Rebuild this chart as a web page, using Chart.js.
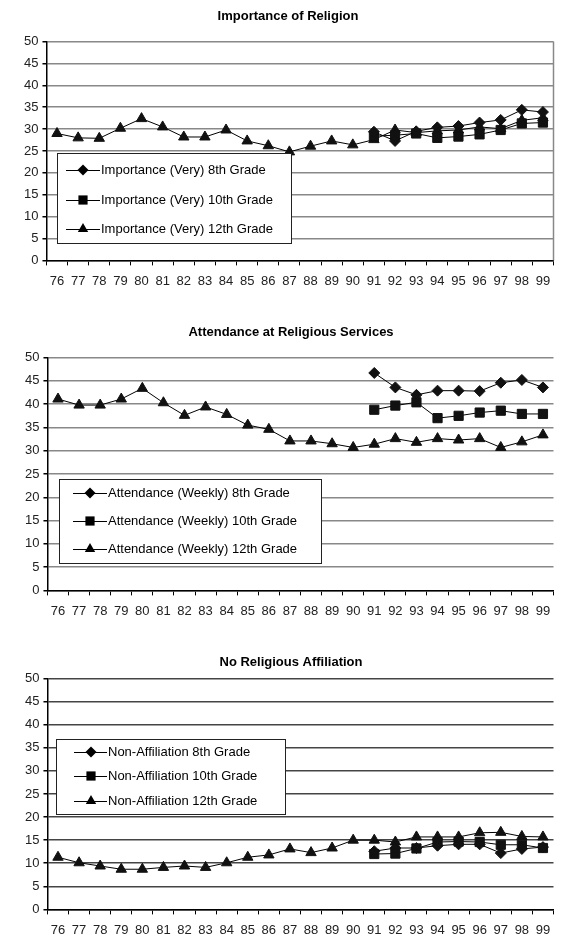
<!DOCTYPE html>
<html>
<head>
<meta charset="utf-8">
<script src="https://cdn.jsdelivr.net/npm/chart.js@4.4.1/dist/chart.umd.min.js"></script>
<style>
  html, body { margin: 0; padding: 0; background: #fff; }
  body { width: 561px; height: 936px; position: relative; overflow: hidden; }
  canvas { position: absolute; left: 0; }
</style>
</head>
<body>
<canvas id="religion-chart" width="561" height="304" style="top:0px"></canvas>
<canvas id="attendance-chart" width="561" height="319" style="top:310px"></canvas>
<canvas id="affiliation-chart" width="561" height="310" style="top:636px"></canvas>
<script>
const years = ['76', '77', '78', '79', '80', '81', '82', '83', '84', '85', '86', '87',
    '88', '89', '90', '91', '92', '93', '94', '95', '96', '97', '98', '99'];

// Importance of Religion (Very)
const importance8 = [null, null, null, null, null, null, null, null, null, null, null, null,
    null, null, null, 29.4, 27.3, 29.5, 30.4, 30.7, 31.5, 32.1, 34.4, 33.9];
const importance10 = [null, null, null, null, null, null, null, null, null, null, null, null,
    null, null, null, 28.4, 28.6, 29.0, 28.0, 28.3, 28.8, 29.8, 31.3, 31.5];
const importance12 = [29.0, 28.0, 27.9, 30.2, 32.4, 30.5, 28.2, 28.2, 29.8, 27.3, 26.2, 24.8,
    26.1, 27.3, 26.4, 27.6, 29.8, 29.2, 29.6, 29.8, 30.5, 30.1, 32.0, 32.6];

// Attendance at Religious Services (Weekly)
const attendance8 = [null, null, null, null, null, null, null, null, null, null, null, null,
    null, null, null, 46.7, 43.6, 42.0, 42.9, 42.9, 42.8, 44.6, 45.2, 43.6];
const attendance10 = [null, null, null, null, null, null, null, null, null, null, null, null,
    null, null, null, 38.8, 39.7, 40.4, 37.0, 37.5, 38.2, 38.6, 37.9, 37.9];
const attendance12 = [41.1, 39.8, 39.8, 41.1, 43.4, 40.3, 37.6, 39.4, 37.8, 35.5, 34.6, 32.1,
    32.1, 31.5, 30.7, 31.4, 32.6, 31.8, 32.6, 32.3, 32.6, 30.7, 31.9, 33.4];

// No Religious Affiliation
const nonAffiliation8 = [null, null, null, null, null, null, null, null, null, null, null, null,
    null, null, null, 12.6, 13.3, 13.3, 13.8, 14.1, 14.1, 12.2, 13.1, 13.5];
const nonAffiliation10 = [null, null, null, null, null, null, null, null, null, null, null, null,
    null, null, null, 12.0, 12.1, 13.2, 14.6, 14.7, 14.6, 14.0, 14.0, 13.3];
const nonAffiliation12 = [11.3, 10.1, 9.4, 8.7, 8.7, 9.1, 9.4, 9.1, 10.1, 11.3, 11.8, 13.1,
    12.3, 13.3, 15.0, 15.0, 14.6, 15.7, 15.7, 15.7, 16.6, 16.7, 15.8, 15.7];

const yTicks = [0, 5, 10, 15, 20, 25, 30, 35, 40, 45, 50];

const FONT = 'Arial, "Liberation Sans", sans-serif';

function drawMarker(ctx, style, x, y, r) {
    ctx.beginPath();
    if (style === 'rectRot') {
        ctx.moveTo(x, y - r);
        ctx.lineTo(x + r, y);
        ctx.lineTo(x, y + r);
        ctx.lineTo(x - r, y);
    } else if (style === 'rect') {
        const s = Math.SQRT1_2 * r;
        ctx.rect(x - s, y - s, 2 * s, 2 * s);
    } else {
        ctx.moveTo(x, y - r);
        ctx.lineTo(x + r * 0.866, y + r * 0.5);
        ctx.lineTo(x - r * 0.866, y + r * 0.5);
    }
    ctx.closePath();
    ctx.fill();
}

// legend box drawn inside the plot area, like the original spreadsheet charts
const boxLegend = {
    id: 'boxLegend',
    afterDraw(chart, args, opts) {
        const ctx = chart.ctx;
        ctx.save();
        ctx.fillStyle = '#fff';
        ctx.fillRect(opts.x, opts.y, opts.w, opts.h);
        ctx.strokeStyle = '#222';
        ctx.lineWidth = 1;
        ctx.strokeRect(opts.x + 0.5, opts.y + 0.5, opts.w, opts.h);
        ctx.font = '13px ' + FONT;
        ctx.textBaseline = 'middle';
        chart.data.datasets.forEach((ds, i) => {
            const y = opts.y + opts.rows[i];
            ctx.strokeStyle = '#000';
            ctx.beginPath();
            ctx.moveTo(opts.lineFrom, y + 0.5);
            ctx.lineTo(opts.lineTo, y + 0.5);
            ctx.stroke();
            ctx.fillStyle = '#000';
            drawMarker(ctx, ds.pointStyle, opts.marker, y, ds.pointRadius);
            ctx.fillText(ds.label, opts.textX, y);
        });
        ctx.restore();
    }
};

// right hand edge of the plot area (only on the first chart)
const rightEdge = {
    id: 'rightEdge',
    beforeDatasetsDraw(chart, args, opts) {
        if (!opts.show) return;
        const a = chart.chartArea;
        const ctx = chart.ctx;
        ctx.save();
        ctx.strokeStyle = opts.color;
        ctx.lineWidth = 1.5;
        ctx.beginPath();
        ctx.moveTo(a.right, a.top);
        ctx.lineTo(a.right, a.bottom);
        ctx.stroke();
        ctx.restore();
    }
};

function series(label, data, style, radius) {
    return {
        label: label,
        data: data,
        borderColor: '#000',
        backgroundColor: '#000',
        borderWidth: 1,
        pointStyle: style,
        pointRadius: radius,
        pointBackgroundColor: '#111',
        pointBorderColor: '#111',
        pointBorderWidth: 1,
        tension: 0
    };
}

function makeChart(id, title, sets, cfg) {
    const ctx = document.getElementById(id).getContext('2d');
    return new Chart(ctx, {
        type: 'line',
        data: {
            labels: years,
            datasets: [
                series(sets[0][0], sets[0][1], 'rectRot', 5.5),
                series(sets[1][0], sets[1][1], 'rect', 6.5),
                series(sets[2][0], sets[2][1], 'triangle', 6)
            ]
        },
        options: {
            responsive: false,
            animation: false,
            events: [],
            layout: { padding: cfg.padding },
            plugins: {
                legend: { display: false },
                tooltip: { enabled: false },
                title: {
                    display: true,
                    text: title,
                    color: '#000',
                    font: { family: FONT, size: 13, weight: 'bold' },
                    padding: cfg.titlePadding
                },
                boxLegend: cfg.legend,
                rightEdge: { show: cfg.rightEdge, color: cfg.gridColor }
            },
            scales: {
                x: {
                    offset: true,
                    grid: {
                        offset: true,
                        drawOnChartArea: false,
                        drawTicks: true,
                        tickLength: 5,
                        tickColor: '#000'
                    },
                    border: { color: '#000', width: 1.5 },
                    ticks: {
                        color: '#222',
                        padding: 8,
                        maxRotation: 0,
                        autoSkip: false,
                        font: { family: FONT, size: 13 }
                    }
                },
                y: {
                    min: 0,
                    max: 50,
                    afterBuildTicks: (axis) => { axis.ticks = yTicks.map(v => ({ value: v })); },
                    grid: {
                        color: cfg.gridColor,
                        lineWidth: 1.5,
                        tickLength: 4,
                        tickColor: '#000'
                    },
                    border: { color: '#000', width: 1.5 },
                    ticks: {
                        color: '#222',
                        padding: 4,
                        font: { family: FONT, size: 13 }
                    }
                }
            }
        },
        plugins: [rightEdge, boxLegend]
    });
}

makeChart('religion-chart', 'Importance of Religion', [
    ['Importance (Very) 8th Grade', importance8],
    ['Importance (Very) 10th Grade', importance10],
    ['Importance (Very) 12th Grade', importance12]
], {
    padding: { left: 20, right: 5, top: 0, bottom: 7 },
    titlePadding: { top: 9, bottom: 17 },
    gridColor: '#888',
    rightEdge: true,
    legend: { x: 57, y: 153, w: 234, h: 90, rows: [17, 47, 76], lineFrom: 66, lineTo: 100, marker: 83, textX: 101 }
});

makeChart('attendance-chart', 'Attendance at Religious Services', [
    ['Attendance (Weekly) 8th Grade', attendance8],
    ['Attendance (Weekly) 10th Grade', attendance10],
    ['Attendance (Weekly) 12th Grade', attendance12]
], {
    padding: { left: 21, right: 0, top: 0, bottom: 2 },
    titlePadding: { top: 15, bottom: 17 },
    gridColor: '#888',
    rightEdge: false,
    legend: { x: 59, y: 169, w: 262, h: 84, rows: [14, 42, 70], lineFrom: 73, lineTo: 107, marker: 90, textX: 108 }
});

makeChart('affiliation-chart', 'No Religious Affiliation', [
    ['Non-Affiliation 8th Grade', nonAffiliation8],
    ['Non-Affiliation 10th Grade', nonAffiliation10],
    ['Non-Affiliation 12th Grade', nonAffiliation12]
], {
    padding: { left: 21, right: 0, top: 0, bottom: 0 },
    titlePadding: { top: 19, bottom: 8 },
    gridColor: '#444',
    rightEdge: false,
    legend: { x: 56, y: 103, w: 229, h: 75, rows: [13, 37, 62], lineFrom: 74, lineTo: 107, marker: 91, textX: 108 }
});
</script>
</body>
</html>
